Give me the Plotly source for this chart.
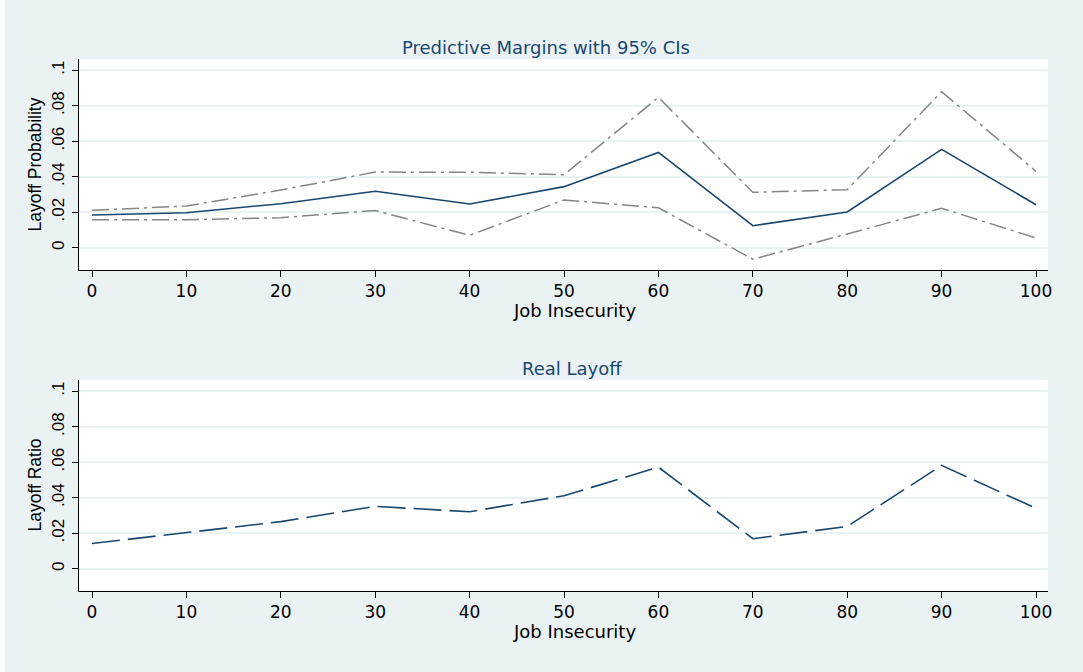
import plotly.graph_objects as go

# Job insecurity levels (x axis)
job_insecurity = [0, 10, 20, 30, 40, 50, 60, 70, 80, 90, 100]

# Predictive margins of layoff probability with 95% confidence bounds
margin = [0.0184, 0.0197, 0.0248, 0.0318, 0.0246, 0.0344, 0.0537, 0.0124, 0.0201, 0.0554, 0.0242]
ci_upper = [0.0211, 0.0235, 0.0325, 0.0426, 0.0425, 0.0411, 0.0847, 0.0312, 0.0327, 0.0879, 0.0430]
ci_lower = [0.0158, 0.0158, 0.0169, 0.0209, 0.0070, 0.0269, 0.0225, -0.0065, 0.0077, 0.0222, 0.0055]

# Observed layoff ratio
real_layoff = [0.0142, 0.0204, 0.0265, 0.0351, 0.0321, 0.0411, 0.0572, 0.0169, 0.0238, 0.0582, 0.0340]

y_tickvals = [0, 0.02, 0.04, 0.06, 0.08, 0.1]
y_ticktext = ["0", ".02", ".04", ".06", ".08", ".1"]
x_tickvals = job_insecurity

NAVY = "#1a476f"
GREY = "#858585"
BG = "#eaf2f3"
H_FONT = "DejaVu Sans"
V_FONT = "Liberation Sans, Arial"

W, H = 1083, 672
ML, MR, MT, MB = 79, 35, 59, 81
PW, PH = W - ML - MR, H - MT - MB


def px_x(px):
    return (px - ML) / PW


def px_y(py):
    return (H - MB - py) / PH


fig = go.Figure()

ci_dash = "17px,5px,3px,5px"
fig.add_trace(go.Scatter(x=job_insecurity, y=ci_upper, mode="lines",
                         line=dict(color=GREY, width=1.5, dash=ci_dash),
                         xaxis="x", yaxis="y", showlegend=False))
fig.add_trace(go.Scatter(x=job_insecurity, y=ci_lower, mode="lines",
                         line=dict(color=GREY, width=1.5, dash=ci_dash),
                         xaxis="x", yaxis="y", showlegend=False))
fig.add_trace(go.Scatter(x=job_insecurity, y=margin, mode="lines",
                         line=dict(color=NAVY, width=1.6),
                         xaxis="x", yaxis="y", showlegend=False))
fig.add_trace(go.Scatter(x=job_insecurity, y=real_layoff, mode="lines",
                         line=dict(color=NAVY, width=1.6, dash="28px,8px"),
                         xaxis="x2", yaxis="y2", showlegend=False))

top_dom = [px_y(270), 1.0]
bot_dom = [0.0, px_y(380)]

xaxis_common = dict(
    range=[-1.38, 101.27], tickvals=x_tickvals, ticks="outside", ticklen=6,
    tickcolor="black", showline=True, linecolor="black", linewidth=1,
    showgrid=False, zeroline=False, mirror=False,
    tickfont=dict(family=H_FONT, size=17, color="black"),
)
yaxis_common = dict(
    range=[-0.01256, 0.1063], tickvals=y_tickvals, ticktext=y_ticktext,
    ticks="outside", ticklen=6, tickcolor="black", showline=True,
    linecolor="black", linewidth=1, showgrid=True, gridcolor=BG, gridwidth=1.5,
    zeroline=False, tickangle=-90, ticklabelstandoff=1,
    tickfont=dict(family=V_FONT, size=17, color="black"),
)

fig.update_layout(
    width=W, height=H,
    margin=dict(l=ML, r=MR, t=MT, b=MB),
    paper_bgcolor=BG, plot_bgcolor="white",
    xaxis=dict(domain=[0, 1], anchor="y", **xaxis_common),
    yaxis=dict(domain=top_dom, anchor="x", **yaxis_common),
    xaxis2=dict(domain=[0, 1], anchor="y2", **xaxis_common),
    yaxis2=dict(domain=bot_dom, anchor="x2", **yaxis_common),
    showlegend=False,
)

annotations = [
    dict(text="Predictive Margins with 95% CIs", x=px_x(546), y=px_y(47.5),
         font=dict(family=H_FONT, size=18, color=NAVY)),
    dict(text="Real Layoff", x=px_x(572), y=px_y(369),
         font=dict(family=H_FONT, size=18, color=NAVY)),
    dict(text="Job Insecurity", x=px_x(574), y=px_y(310),
         font=dict(family=H_FONT, size=18, color="black")),
    dict(text="Job Insecurity", x=px_x(574), y=px_y(631),
         font=dict(family=H_FONT, size=18, color="black")),
    dict(text="Layoff Probability", x=px_x(34), y=px_y(164.5), textangle=-90,
         font=dict(family=V_FONT, size=17.5, color="black")),
    dict(text="Layoff Ratio", x=px_x(34), y=px_y(485.5), textangle=-90,
         font=dict(family=V_FONT, size=17.5, color="black")),
]
for a in annotations:
    a.update(xref="paper", yref="paper", showarrow=False,
             xanchor="center", yanchor="middle")
fig.update_layout(annotations=annotations)

# thin white strip along the left edge of the canvas
fig.add_shape(type="rect", xref="paper", yref="paper",
              x0=px_x(-2), x1=px_x(5), y0=px_y(H + 2), y1=px_y(-2),
              fillcolor="white", line=dict(width=0), layer="below")

fig.write_html("out.html")
